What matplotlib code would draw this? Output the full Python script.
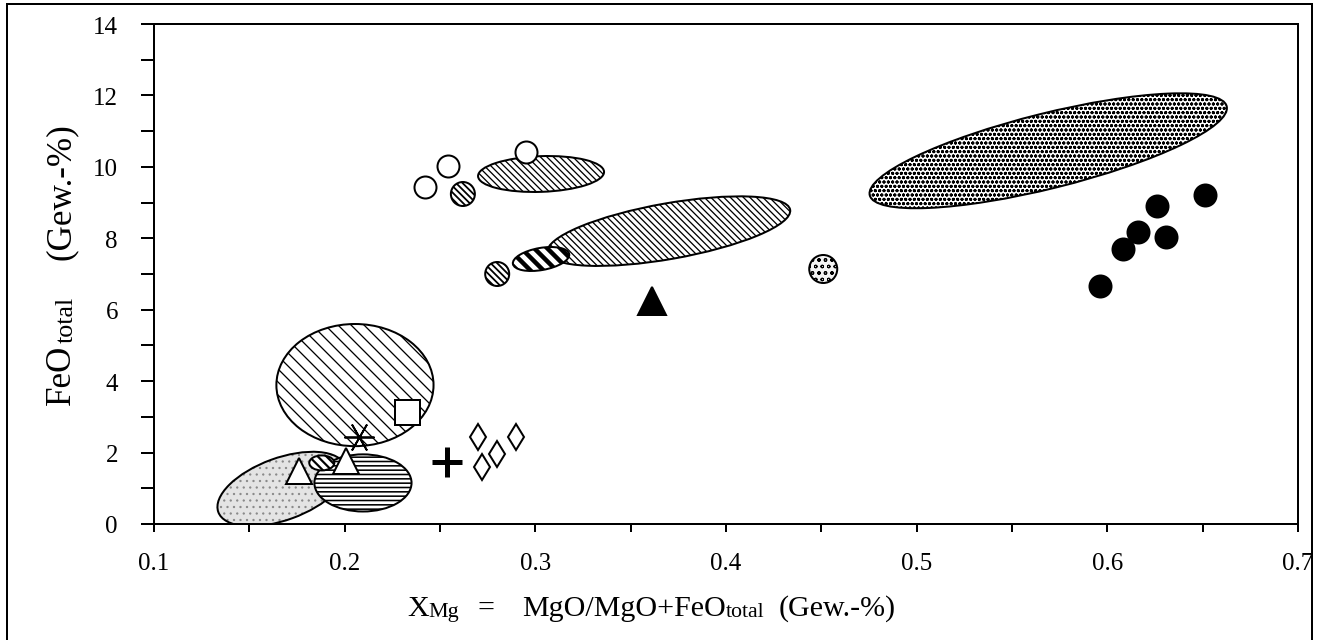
import numpy as np
import matplotlib
matplotlib.use('Agg')
import matplotlib.pyplot as plt
from matplotlib.patches import Ellipse, Rectangle
from matplotlib.transforms import Affine2D
from matplotlib.ticker import MultipleLocator, FormatStrFormatter

# ---------------- data ----------------
# fields (ellipses): centre XMg, centre FeO, extent along major / minor axis (FeO units as drawn), tilt (deg)
field_names = ["dots_large", "hatch_upper", "hatch_middle", "stripes_small",
               "hatch_big_low", "grey_low", "horizontal_low", "tiny_low"]
field_x     = [0.569, 0.303, 0.370, 0.303, 0.2054, 0.167, 0.2096, 0.188]
field_y     = [10.45, 9.80,  8.20,  7.42,  3.89,   0.98,  1.15,   1.71]
field_w     = [10.3,  3.53,  6.90,  1.60,  4.40,   3.78,  2.72,   0.70]
field_h     = [2.10,  1.00,  1.56,  0.62,  3.42,   1.74,  1.60,   0.42]
field_angle = [14,    2,     10,    10,    0,      20,    0,      0]

open_circle_x = [0.242, 0.254, 0.295]
open_circle_y = [9.44, 10.03, 10.42]
hatched_circle_x = [0.262, 0.280]
hatched_circle_y = [9.24, 7.00]
dotted_circle_x = [0.451]
dotted_circle_y = [7.14]
black_circle_x = [0.651, 0.626, 0.616, 0.631, 0.608, 0.596]
black_circle_y = [9.21, 8.91, 8.18, 8.04, 7.70, 6.66]
black_triangle_x = [0.361]
black_triangle_y = [6.24]
open_square_x = [0.2327]
open_square_y = [3.14]
open_triangle_x = [0.176, 0.2007]
open_triangle_y = [1.48, 1.76]
asterisk_x = [0.2075]
asterisk_y = [2.44]
plus_x = [0.2537]
plus_y = [1.74]
diamond_x = [0.270, 0.272, 0.280, 0.290]
diamond_y = [2.44, 1.60, 1.96, 2.44]

x_ticks = [0.1, 0.2, 0.3, 0.4, 0.5, 0.6, 0.7]
y_ticks = [0, 2, 4, 6, 8, 10, 12, 14]

# ---------------- layout ----------------
W, H, DPI = 1317, 641, 78
PT = 72.0 / DPI          # points per pixel
AX_L, AX_R, AX_T, AX_B = 154, 1298, 25, 525

plt.rcParams['font.family'] = ['Liberation Serif', 'DejaVu Serif']
plt.rcParams['hatch.linewidth'] = 1.2 * PT

fig = plt.figure(figsize=(W / DPI, H / DPI), dpi=DPI)
fig.patch.set_facecolor('white')
ax = fig.add_axes([AX_L / W, 1 - AX_B / H, (AX_R - AX_L) / W, (AX_B - AX_T) / H])
ax.set_xlim(x_ticks[0], x_ticks[-1])
ax.set_ylim(y_ticks[0], y_ticks[-1])

# ratio of pixel scale in x vs y so ellipses keep their drawn shape
K = ((AX_R - AX_L) / (x_ticks[-1] - x_ticks[0])) / ((AX_B - AX_T) / (y_ticks[-1] - y_ticks[0]))
vis = Affine2D().scale(1.0 / K, 1.0) + ax.transData

BS2 = '\\' * 2
BS3 = '\\' * 3
BS4 = '\\' * 4
field_style = {
    "dots_large":     dict(fc='white', hatch='ooo', hlw=1.3),
    "hatch_upper":    dict(fc='white', hatch=BS4, hlw=1.3),
    "hatch_middle":   dict(fc='white', hatch=BS4, hlw=1.3),
    "stripes_small":  dict(fc='white', hatch=BS2, hlw=4.5),
    "hatch_big_low":  dict(fc='white', hatch=BS2, hlw=1.3),
    "grey_low":       dict(fc='#e4e4e4', hatch='..', hlw=1.0, hc='#8a8a8a'),
    "horizontal_low": dict(fc='white', hatch='---', hlw=1.6),
    "tiny_low":       dict(fc='white', hatch=BS3, hlw=2.2),
}
draw_order = ["grey_low", "horizontal_low", "hatch_big_low", "tiny_low",
              "hatch_upper", "hatch_middle", "stripes_small", "dots_large"]


def set_hlw(artist, lw_px):
    if hasattr(artist, 'set_hatch_linewidth'):
        artist.set_hatch_linewidth(lw_px * PT)


for z, name in enumerate(draw_order):
    i = field_names.index(name)
    st = field_style[name]
    centre = (field_x[i] * K, field_y[i])
    plt.rcParams['hatch.linewidth'] = st['hlw'] * PT
    e1 = Ellipse(centre, field_w[i], field_h[i], angle=field_angle[i], transform=vis,
                 facecolor=st['fc'], edgecolor=st.get('hc', 'black'), linewidth=0,
                 hatch=st['hatch'], zorder=1 + z * 0.1)
    set_hlw(e1, st['hlw'])
    ax.add_patch(e1)
    e2 = Ellipse(centre, field_w[i], field_h[i], angle=field_angle[i], transform=vis,
                 facecolor='none', edgecolor='black', linewidth=2.0 * PT,
                 zorder=1.05 + z * 0.1)
    ax.add_patch(e2)

# ---------------- point symbols ----------------
MEW = 2.0 * PT
ax.plot(open_circle_x, open_circle_y, 'o', ls='none', ms=22 * PT, mfc='white', mec='black', mew=MEW, zorder=5)
plt.rcParams['hatch.linewidth'] = 1.8 * PT
sc1 = ax.scatter(hatched_circle_x, hatched_circle_y, s=(24 * PT) ** 2, marker='o', facecolor='white',
                 edgecolor='black', linewidth=MEW, hatch=BS4, zorder=5)
set_hlw(sc1, 1.8)
plt.rcParams['hatch.linewidth'] = 1.0 * PT
sc2 = ax.scatter(dotted_circle_x, dotted_circle_y, s=(28 * PT) ** 2, marker='o', facecolor='#f4f4f4',
                 edgecolor='black', linewidth=MEW, hatch='oo', zorder=5)
set_hlw(sc2, 1.0)
ax.plot(black_circle_x, black_circle_y, 'o', ls='none', ms=22 * PT, mfc='black', mec='black', mew=MEW, zorder=5)
ax.plot(black_triangle_x, black_triangle_y, '^', ls='none', ms=28 * PT, mfc='black', mec='black', mew=MEW, zorder=5)
ax.plot(open_square_x, open_square_y, 's', ls='none', ms=25 * PT, mfc='white', mec='black', mew=MEW, zorder=5)
ax.plot(open_triangle_x, open_triangle_y, '^', ls='none', ms=26 * PT, mfc='white', mec='black', mew=MEW, zorder=5)
ax.plot(asterisk_x, asterisk_y, marker=(6, 2, 90), ls='none', ms=30 * PT, mec='black', mew=1.8 * PT, zorder=5)
ax.plot(plus_x, plus_y, '+', ls='none', ms=30 * PT, mec='black', mew=5 * PT, zorder=5)
ax.plot(diamond_x, diamond_y, 'd', ls='none', ms=17.7 * PT, mfc='white', mec='black', mew=MEW, zorder=5)

# ---------------- axes styling ----------------
for sp in ax.spines.values():
    sp.set_linewidth(2.0 * PT)
ax.xaxis.set_major_locator(MultipleLocator(0.1))
ax.xaxis.set_minor_locator(MultipleLocator(0.05))
ax.yaxis.set_major_locator(MultipleLocator(2))
ax.yaxis.set_minor_locator(MultipleLocator(1))
ax.xaxis.set_major_formatter(FormatStrFormatter('%.1f'))
ax.yaxis.set_major_formatter(FormatStrFormatter('%d'))
ax.tick_params(axis='y', which='both', direction='out', length=13 * PT, width=2.0 * PT,
               labelsize=25 * PT, pad=23 * PT, right=False)
ax.tick_params(axis='x', which='both', direction='out', length=8 * PT, width=2.0 * PT,
               labelsize=25 * PT, pad=20 * PT, top=False)


# ---------------- labels (mixed size pieces) ----------------
def chain(pieces, x_px, y_px, vertical=False):
    prev = None
    for s, size, gap in pieces:
        if prev is None:
            if vertical:
                prev = fig.text(x_px / W, 1 - y_px / H, s, fontsize=size * PT, rotation=90,
                                ha='right', va='bottom')
            else:
                prev = fig.text(x_px / W, 1 - y_px / H, s, fontsize=size * PT,
                                ha='left', va='bottom')
        else:
            if vertical:
                prev = ax.annotate(s, xy=(1, 1), xycoords=prev, xytext=(0, gap),
                                   textcoords='offset pixels', fontsize=size * PT,
                                   rotation=90, ha='right', va='bottom', annotation_clip=False)
            else:
                prev = ax.annotate(s, xy=(1, 0), xycoords=prev, xytext=(gap, 0),
                                   textcoords='offset pixels', fontsize=size * PT,
                                   ha='left', va='bottom', annotation_clip=False)


chain([("X", 30, 0), ("Mg", 22, 0), ("=", 30, 18), ("MgO/MgO+FeO", 30, 28),
       ("total", 22, 0), ("(Gew.-%)", 30, 14)], 407, 622)
chain([("FeO", 35, 0), ("total", 26, 2), ("(Gew.-%)", 35, 36)], 78, 405, vertical=True)

# figure frame
fig.add_artist(Rectangle((7 / W, -0.05), (1312 - 7) / W, 1 - 5 / H + 0.05, transform=fig.transFigure,
                         fill=False, edgecolor='black', linewidth=2.0 * PT, clip_on=False))

fig.savefig('out.png', dpi=DPI, facecolor='white')
